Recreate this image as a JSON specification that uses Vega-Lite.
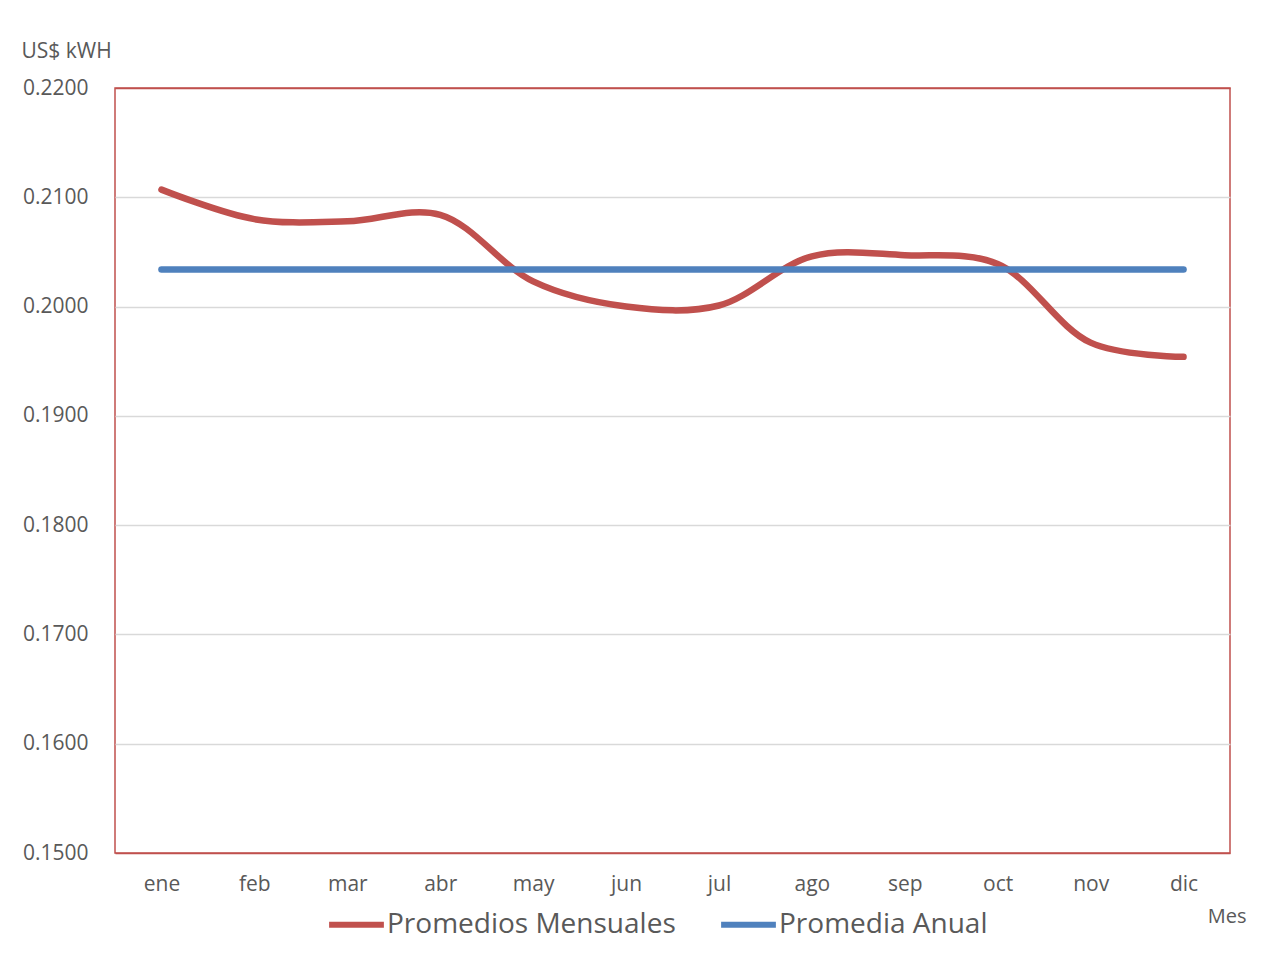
{
  "$schema": "https://vega.github.io/schema/vega-lite/v6.json",
  "autosize": {"type": "none"},
  "padding": {"left": 115, "top": 88, "right": 45, "bottom": 108},
  "width": 1115,
  "height": 765,
  "background": "white",
  "config": {
    "font": "Open Sans",
    "view": {"stroke": "#c0504d", "strokeWidth": 1.5}
  },
  "data": {
    "values": [
      {"mes": "ene", "serie": "Promedios Mensuales", "valor": 0.2107},
      {"mes": "feb", "serie": "Promedios Mensuales", "valor": 0.2080},
      {"mes": "mar", "serie": "Promedios Mensuales", "valor": 0.2078},
      {"mes": "abr", "serie": "Promedios Mensuales", "valor": 0.2084},
      {"mes": "may", "serie": "Promedios Mensuales", "valor": 0.2023},
      {"mes": "jun", "serie": "Promedios Mensuales", "valor": 0.2000},
      {"mes": "jul", "serie": "Promedios Mensuales", "valor": 0.2001},
      {"mes": "ago", "serie": "Promedios Mensuales", "valor": 0.2046},
      {"mes": "sep", "serie": "Promedios Mensuales", "valor": 0.2047},
      {"mes": "oct", "serie": "Promedios Mensuales", "valor": 0.2039},
      {"mes": "nov", "serie": "Promedios Mensuales", "valor": 0.1967},
      {"mes": "dic", "serie": "Promedios Mensuales", "valor": 0.1954},
      {"mes": "ene", "serie": "Promedia Anual", "valor": 0.2034},
      {"mes": "feb", "serie": "Promedia Anual", "valor": 0.2034},
      {"mes": "mar", "serie": "Promedia Anual", "valor": 0.2034},
      {"mes": "abr", "serie": "Promedia Anual", "valor": 0.2034},
      {"mes": "may", "serie": "Promedia Anual", "valor": 0.2034},
      {"mes": "jun", "serie": "Promedia Anual", "valor": 0.2034},
      {"mes": "jul", "serie": "Promedia Anual", "valor": 0.2034},
      {"mes": "ago", "serie": "Promedia Anual", "valor": 0.2034},
      {"mes": "sep", "serie": "Promedia Anual", "valor": 0.2034},
      {"mes": "oct", "serie": "Promedia Anual", "valor": 0.2034},
      {"mes": "nov", "serie": "Promedia Anual", "valor": 0.2034},
      {"mes": "dic", "serie": "Promedia Anual", "valor": 0.2034}
    ]
  },
  "mark": {"type": "line", "interpolate": "catmull-rom", "strokeWidth": 6.5, "strokeCap": "round"},
  "encoding": {
    "x": {
      "field": "mes",
      "type": "ordinal",
      "sort": ["ene", "feb", "mar", "abr", "may", "jun", "jul", "ago", "sep", "oct", "nov", "dic"],
      "scale": {"type": "point", "padding": 0.5},
      "axis": {
        "title": "Mes",
        "titleFont": "Open Sans",
        "titleFontSize": 20,
        "titleFontWeight": "normal",
        "titleColor": "#595959",
        "titleAlign": "right",
        "titleAnchor": "start",
        "titleX": 1131,
        "titleY": 63,
        "titleBaseline": "middle",
        "labelAngle": 0,
        "labelFontSize": 21,
        "labelColor": "#595959",
        "labelPadding": 20,
        "ticks": false,
        "domain": false,
        "grid": false
      }
    },
    "y": {
      "field": "valor",
      "type": "quantitative",
      "scale": {"domain": [0.15, 0.22], "nice": false, "zero": false},
      "axis": {
        "values": [0.15, 0.16, 0.17, 0.18, 0.19, 0.20, 0.21, 0.22],
        "format": ".4f",
        "title": "US$ kWH",
        "titleAngle": 0,
        "titleFontSize": 21,
        "titleFontWeight": "normal",
        "titleColor": "#595959",
        "titleAlign": "left",
        "titleAnchor": "start",
        "titleX": -94,
        "titleY": -37,
        "titleBaseline": "middle",
        "labelFontSize": 21,
        "labelColor": "#595959",
        "labelPadding": 27,
        "ticks": false,
        "domain": false,
        "grid": true,
        "gridColor": {"condition": {"test": "datum.value <= 0.1501 || datum.value >= 0.2199", "value": "#c0504d"}, "value": "#d9d9d9"},
        "gridWidth": 1.5
      }
    },
    "color": {
      "field": "serie",
      "type": "nominal",
      "scale": {"domain": ["Promedios Mensuales", "Promedia Anual"], "range": ["#c0504d", "#4f81bd"]},
      "legend": {
        "title": null,
        "orient": "none",
        "direction": "horizontal",
        "legendX": 211,
        "legendY": 806,
        "symbolType": "stroke",
        "symbolSize": 3000,
        "symbolStrokeWidth": 6,
        "labelFontSize": 28,
        "labelColor": "#595959",
        "labelOffset": 0,
        "columnPadding": 33,
        "labelLimit": 400
      }
    }
  }
}
